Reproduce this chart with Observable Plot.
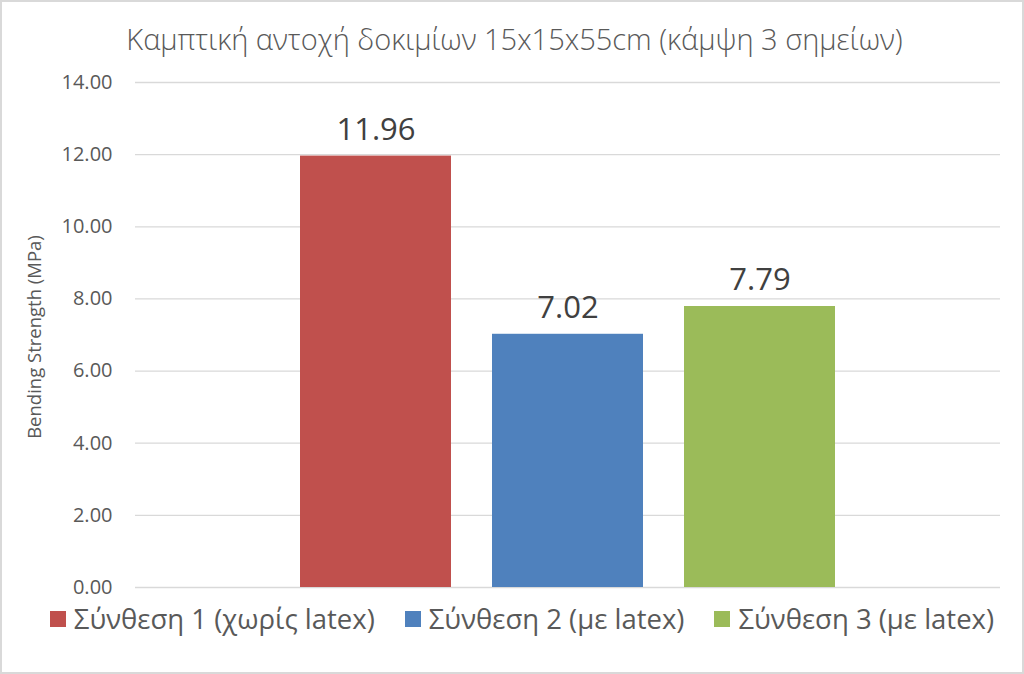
<!DOCTYPE html>
<html>
<head>
<meta charset="utf-8">
<script src="https://cdn.jsdelivr.net/npm/d3@7"></script>
<script src="https://cdn.jsdelivr.net/npm/@observablehq/plot@0.6"></script>
<style>
  html, body { margin: 0; padding: 0; background: #fff; }
  #chart { position: relative; width: 1024px; height: 674px; overflow: hidden; font-family: "Open Sans", sans-serif; color: #595959; }
  #chart svg { position: absolute; left: 0; top: 0; }
  #border { position: absolute; left: 0; top: 0; width: 1024px; height: 674px; box-sizing: border-box; border: 2px solid #d9d9d9; pointer-events: none; }
  #legend { position: absolute; left: 0; top: 600px; width: 1024px; display: flex; justify-content: center; align-items: center; padding-left: 20px; box-sizing: border-box; font-size: 27.5px; color: #595959; }
  .item { display: flex; align-items: center; margin: 0 15px; white-space: nowrap; }
  .sw { width: 16px; height: 16px; margin-right: 8px; }
</style>
</head>
<body>
<div id="chart"></div>
<script>
const titleText = "Καμπτική αντοχή δοκιμίων 15x15x55cm (κάμψη 3 σημείων)";
const yLabel = "Bending Strength (MPa)";
const seriesNames = ["Σύνθεση 1 (χωρίς latex)", "Σύνθεση 2 (με latex)", "Σύνθεση 3 (με latex)"];
const seriesValues = [11.96, 7.02, 7.79];
const seriesColors = ["#C0504D", "#4F81BD", "#9BBB59"];
const yTicks = [0, 2, 4, 6, 8, 10, 12, 14];

const data = seriesNames.map((name, i) => ({name, value: seriesValues[i]}));
const fmt = d3.format(".2f");

const plot = Plot.plot({
  width: 1024,
  height: 600,
  marginLeft: 135,
  marginRight: 24,
  marginTop: 82,
  marginBottom: 13,
  style: {background: "transparent", fontFamily: "Open Sans, sans-serif", color: "#595959", overflow: "visible"},
  x: {domain: seriesNames, paddingInner: 0.2135, paddingOuter: 0.859, axis: null},
  y: {domain: [0, 14], ticks: yTicks, axis: null},
  color: {domain: seriesNames, range: seriesColors},
  marks: [
    Plot.gridY(yTicks, {stroke: "#d9d9d9", strokeOpacity: 1, strokeWidth: 1.3}),
    Plot.barY(data, {x: "name", y: "value", fill: "name"}),
    Plot.text(data, {x: "name", y: "value", text: d => fmt(d.value), dy: -26, fontSize: 31, fill: "#404040", lineAnchor: "middle"}),
    Plot.axisY(yTicks, {tickFormat: fmt, tickSize: 0, tickPadding: 23, fontSize: 20, fill: "#595959", label: null}),
    Plot.text([yLabel], {frameAnchor: "left", dx: -100, dy: 2, rotate: -90, fontSize: 18.5, fill: "#595959", textAnchor: "middle"}),
    Plot.text([titleText], {frameAnchor: "top-left", dx: 379, dy: -42, fontSize: 29, fontWeight: 300, fill: "#595959", textAnchor: "middle", lineAnchor: "middle"})
  ]
});

const chart = document.getElementById("chart");
chart.appendChild(plot);

const legend = d3.select(chart).append("div").attr("id", "legend");
const items = legend.selectAll(".item").data(data).join("div").attr("class", "item");
items.append("div").attr("class", "sw").style("background", d => seriesColors[seriesNames.indexOf(d.name)]);
items.append("span").text(d => d.name);

d3.select(chart).append("div").attr("id", "border");
</script>
</body>
</html>
